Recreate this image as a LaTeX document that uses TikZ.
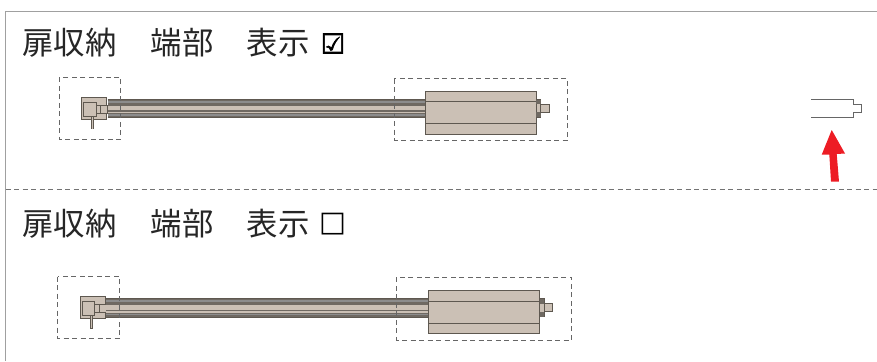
\documentclass[tikz,border=0pt]{standalone}
\usepackage{fontspec}
\newfontfamily\cjkfont{Noto Sans CJK JP}
\newfontfamily\symfont{DejaVu Sans}
\newfontfamily\symboldfont[FakeBold=2.5]{DejaVu Sans}
\definecolor{tan}{HTML}{CBC0B5}
\definecolor{edge}{HTML}{5E5850}
\definecolor{band}{HTML}{6F6962}
\definecolor{frame}{HTML}{A0A0A0}
\definecolor{arrowred}{HTML}{ED1C24}
\tikzset{
  lbl/.style={inner sep=0pt,anchor=west,font=\cjkfont\fontsize{31.4}{31.4}\selectfont,text=black!85},
  sym/.style={inner sep=0pt,anchor=center,font=\symfont\fontsize{28.5}{28.5}\selectfont},
  symbold/.style={inner sep=0pt,anchor=center,font=\symboldfont\fontsize{27.5}{27.5}\selectfont},
  part/.style={fill=tan,draw=edge,line width=0.9pt},
  dbox/.style={draw=black!60,line width=0.7pt,dash pattern=on 5pt off 3.5pt},
  ghost/.style={draw=black!60,line width=0.8pt},
}
% #1 left dash xmin, #2 left dash xmax, #3 left dash ymin, #4 left dash ymax
% #5 right dash xmin, #6 right dash xmax, #7 right dash ymin, #8 right dash ymax
% #9 origin of the mechanism; \bodyx = body left edge measured from the origin
\newcommand{\mechanism}[9]{%
  \begin{scope}[shift={(#9)}]
    \pgfmathsetmacro{\bodyr}{\bodyx+\bodyw}
    \pgfmathsetmacro{\capr}{\bodyr+4.7}
    \pgfmathsetmacro{\nubr}{\capr+8.3}
    \draw[part] (0,-1.7) rectangle (25,20);
    \draw[part] (2,3) rectangle (14.5,17);
    \draw[part] (14.5,6) rectangle (19,14);
    \draw[part] (19,6) rectangle (26,14);
    \fill[edge] (9.6,17) rectangle (12.4,30);
    \fill[tan] (10.4,17.5) rectangle (11.6,29.5);
    % rail
    \fill[band] (26,0) rectangle (\bodyx,18.4);
    \fill[black!45] (26,1.6) rectangle (\bodyx,3.2);
    \fill[black!45] (26,15) rectangle (\bodyx,16.4);
    \fill[tan] (26,6.6) rectangle (\bodyx,11);
    \fill[tan] (26,12.3) rectangle (\bodyx,14);
    \draw[edge,line width=0.8pt] (26,0) -- (\bodyx,0) (26,18.4) -- (\bodyx,18.4);
    % body
    \draw[part] (\bodyx,-7.9) rectangle (\bodyr,34.9);
    \draw[edge,line width=1pt] (\bodyx,2.6) -- (\bodyr,2.6) (\bodyx,24.6) -- (\bodyr,24.6);
    \draw[part] (\bodyr,0) rectangle (\capr,18.4);
    \fill[band] (\bodyr,0.5) rectangle (\capr,5);
    \fill[band] (\bodyr,13) rectangle (\capr,18);
    \draw[part] (\capr,5) rectangle (\nubr,13.4);
  \end{scope}
  \draw[dbox] (#1,#3) rectangle (#2,#4);
  \draw[dbox] (#5,#7) rectangle (#6,#8);
}
\begin{document}
\begin{tikzpicture}[x=1pt,y=-1pt]
\useasboundingbox (0,0) rectangle (877,361);
\draw[frame,line width=1.2pt] (5.5,361) -- (5.5,11.5) -- (877,11.5);
\draw[black!55,line width=0.7pt,dash pattern=on 5pt off 3.5pt] (5.5,189.5) -- (877,189.5);
\node[lbl] (t1a) at (22,43) {扉収納};
\node[lbl] (t1b) at (150.5,43) {端部};
\node[lbl] (t1c) at (246.5,43) {表示};
\node[symbold] (t1d) at (333,43.5) {☑};
\node[lbl] (t2a) at (22,224) {扉収納};
\node[lbl] (t2b) at (150.5,224) {端部};
\node[lbl] (t2c) at (246.5,224) {表示};
\node[sym] (t2d) at (333,224.5) {□};
\def\bodyx{343.6}\def\bodyw{110.7}
\mechanism{59.3}{120.7}{77.3}{139.3}{394.3}{567.7}{78.7}{140}{81.7,99.3}
\def\bodyx{347.7}\def\bodyw{111.7}
\mechanism{57.7}{119.7}{276.7}{338.7}{396.7}{571.7}{277.3}{340}{80.3,298.5}
% ghost end
\draw[ghost] (811,99.3) -- (853.3,99.3) -- (853.3,104.3) -- (861.7,104.3) -- (861.7,112.3) -- (853.3,112.3) -- (853.3,117.3) -- (811,117.3);
% red arrow
\fill[arrowred] (831.7,130) -- (845,153.5) -- (836.7,154) -- (839,181.7) -- (831,181.7) -- (829.3,154.5) -- (821.7,154.7) -- cycle;
\end{tikzpicture}
\end{document}
